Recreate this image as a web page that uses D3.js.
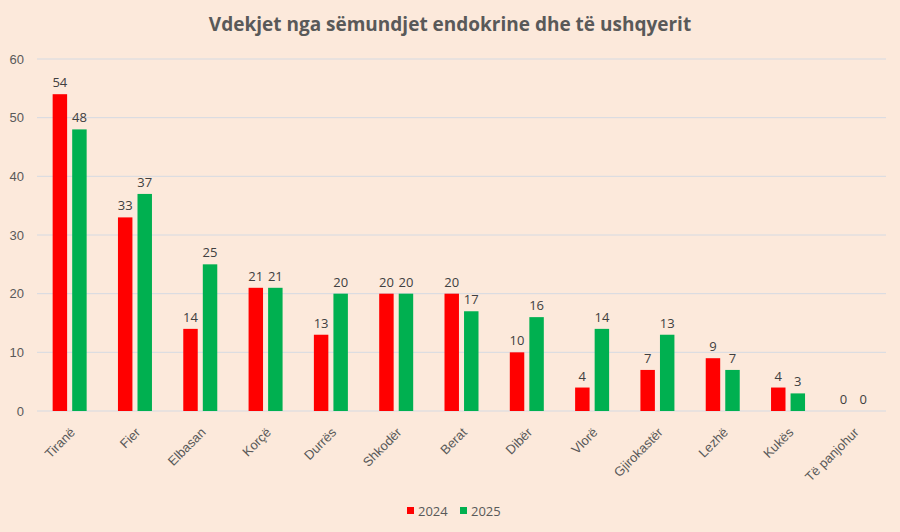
<!DOCTYPE html>
<html>
<head>
<meta charset="utf-8">
<script src="https://cdn.jsdelivr.net/npm/d3@7"></script>
<style>
  body { margin: 0; background: #fce9db; }
  svg { display: block; font-family: "Open Sans", "Liberation Sans", sans-serif; }
</style>
</head>
<body>
<div id="chart"></div>
<script>
const qarqet = ["Tiranë", "Fier", "Elbasan", "Korçë", "Durrës", "Shkodër", "Berat", "Dibër", "Vlorë", "Gjirokastër", "Lezhë", "Kukës", "Të panjohur"];
const vitet = ["2024", "2025"];
const vdekje2024 = [54, 33, 14, 21, 13, 20, 20, 10, 4, 7, 9, 4, 0];
const vdekje2025 = [48, 37, 25, 21, 20, 20, 17, 16, 14, 13, 7, 3, 0];
const yTicks = [0, 10, 20, 30, 40, 50, 60];
const ngjyrat = ["#ff0000", "#00b050"];

const W = 900, H = 532;
const margin = {top: 59, right: 14, bottom: 121, left: 37},
  width = W - margin.left - margin.right,
  height = H - margin.top - margin.bottom;

const data = qarqet.map((q, i) => ({ qark: q, vlerat: [vdekje2024[i], vdekje2025[i]] }));

const root = d3.select("#chart").append("svg")
  .attr("width", W)
  .attr("height", H);

root.append("rect").attr("width", W).attr("height", H).attr("fill", "#fce9db");

root.append("text")
  .attr("x", W / 2)
  .attr("y", 31)
  .attr("text-anchor", "middle")
  .style("font-size", "19px")
  .style("font-weight", "bold")
  .attr("fill", "#595959")
  .text("Vdekjet nga sëmundjet endokrine dhe të ushqyerit");

const svg = root.append("g")
  .attr("transform", `translate(${margin.left},${margin.top})`);

const x = d3.scaleBand()
  .domain(qarqet)
  .range([0, width]);

const x1 = d3.scaleBand()
  .domain(vitet)
  .range([x.bandwidth() / 2 - 17, x.bandwidth() / 2 + 17])
  .paddingInner(0.26);

const y = d3.scaleLinear()
  .domain([0, 60])
  .range([height, 0]);

// gridlines
svg.append("g")
  .selectAll("line")
  .data(yTicks)
  .join("line")
  .attr("x1", 0)
  .attr("x2", width)
  .attr("y1", d => y(d))
  .attr("y2", d => y(d))
  .attr("stroke", "#d5dae2")
  .attr("stroke-width", 1);

// y axis labels
const yAxis = svg.append("g")
  .call(d3.axisLeft(y).tickValues(yTicks).tickSize(0).tickPadding(13));
yAxis.select(".domain").remove();
yAxis.selectAll("text")
  .style("font-size", "13px")
  .attr("fill", "#595959");

// x axis labels
const xAxis = svg.append("g")
  .attr("transform", `translate(0,${height})`)
  .call(d3.axisBottom(x).tickSize(0));
xAxis.select(".domain").remove();
xAxis.selectAll("text")
  .style("font-size", "13px")
  .attr("fill", "#595959")
  .attr("text-anchor", "end")
  .attr("x", 0)
  .attr("y", 0)
  .attr("dy", "0.35em")
  .attr("transform", "translate(3,19) rotate(-45)");

const grupet = svg.selectAll(".grup")
  .data(data)
  .join("g")
  .attr("class", "grup")
  .attr("transform", d => `translate(${x(d.qark)},0)`);

grupet.selectAll("rect")
  .data(d => d.vlerat.map((v, i) => ({ viti: vitet[i], v, i })))
  .join("rect")
  .attr("x", d => x1(d.viti))
  .attr("y", d => y(d.v))
  .attr("width", x1.bandwidth())
  .attr("height", d => y(0) - y(d.v))
  .attr("fill", d => ngjyrat[d.i]);

grupet.selectAll(".vlera")
  .data(d => d.vlerat.map((v, i) => ({ viti: vitet[i], v, i })))
  .join("text")
  .attr("class", "vlera")
  .attr("x", d => x1(d.viti) + x1.bandwidth() / 2)
  .attr("y", d => y(d.v) - 7)
  .attr("text-anchor", "middle")
  .style("font-size", "13px")
  .attr("fill", "#404040")
  .text(d => d.v);

// legend
const legend = root.append("g")
  .attr("transform", "translate(407,511)");
const item = legend.selectAll("g")
  .data(vitet)
  .join("g")
  .attr("transform", (d, i) => `translate(${i * 53},0)`);
item.append("rect")
  .attr("x", 0)
  .attr("y", -4)
  .attr("width", 7)
  .attr("height", 7)
  .attr("fill", (d, i) => ngjyrat[i]);
item.append("text")
  .attr("x", 11)
  .attr("y", 4.5)
  .style("font-size", "13px")
  .attr("fill", "#595959")
  .text(d => d);
</script>
</body>
</html>
